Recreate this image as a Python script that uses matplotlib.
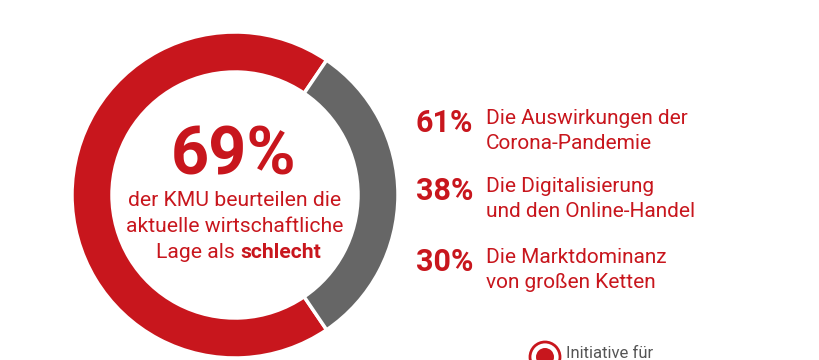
import matplotlib.pyplot as plt
from matplotlib.patches import Circle

# donut: share of KMU rating the economic situation as bad
anteile = [69, 31]
farben = ['#c8161d', '#666666']

# reasons listed on the right
prozente = ['61%', '38%', '30%']
gruende = ['Die Auswirkungen der\nCorona-Pandemie',
           'Die Digitalisierung\nund den Online-Handel',
           'Die Marktdominanz\nvon großen Ketten']

rot = '#c8161d'
plt.rcParams['font.family'] = ['Roboto', 'DejaVu Sans']

fig = plt.figure(figsize=(8.2, 3.6), dpi=100)
ax = fig.add_axes([0, 0, 1, 1])

H = 360
cx, cy = 235, H - 195
start = anteile[1] / 100 * 180
ax.pie(anteile, colors=farben, startangle=start, counterclock=True,
       center=(cx, cy), radius=163, frame=True,
       wedgeprops=dict(width=40, edgecolor='white', linewidth=2.5))
ax.set_xlim(0, 820)
ax.set_ylim(0, 360)
ax.axis('off')

ax.text(cx - 1, H - 157, '69%', fontsize=48, fontweight='bold', color=rot,
        ha='center', va='center')
fs = 15.2
ax.text(cx, H - 201, 'der KMU beurteilen die', fontsize=fs, color=rot,
        ha='center', va='center')
ax.text(cx, H - 227, 'aktuelle wirtschaftliche', fontsize=fs, color=rot,
        ha='center', va='center')
ax.text(cx + 5, H - 252, 'Lage als ', fontsize=fs, color=rot,
        ha='right', va='center')
ax.text(cx + 5, H - 252, 'schlecht', fontsize=fs, color=rot,
        fontweight='bold', ha='left', va='center')

ys = [131, 199, 270]
for y, p, g in zip(ys, prozente, gruende):
    ax.text(473, H - y + 8, p, fontsize=22, fontweight='bold', color=rot,
            ha='right', va='center')
    ax.text(486, H - y, g, fontsize=15, color=rot, ha='left', va='center',
            linespacing=1.35)

# logo, cut off at the bottom
ax.add_patch(Circle((545, H - 357), 15, facecolor='white', edgecolor=rot,
                    linewidth=2))
ax.add_patch(Circle((545, H - 357), 9, facecolor=rot, edgecolor='none'))
ax.text(566, H - 353, 'Initiative für', fontsize=12, color='#555555',
        ha='left', va='center')

fig.savefig('out.png', dpi=100)
